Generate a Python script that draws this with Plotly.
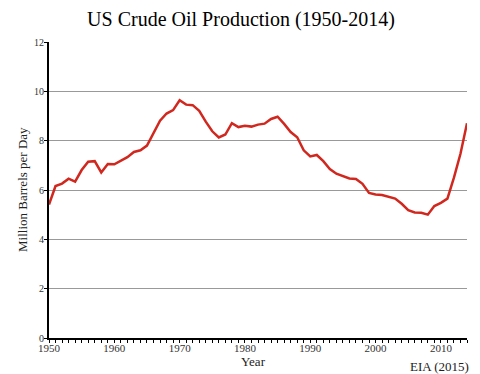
import plotly.graph_objects as go

years = list(range(1950, 2015))
production = [5.41, 6.16, 6.26, 6.46, 6.34, 6.81, 7.15, 7.17, 6.71, 7.05,
              7.04, 7.18, 7.33, 7.54, 7.61, 7.80, 8.30, 8.81, 9.10, 9.24,
              9.64, 9.46, 9.44, 9.21, 8.77, 8.38, 8.13, 8.25, 8.71, 8.55,
              8.60, 8.57, 8.65, 8.69, 8.88, 8.97, 8.68, 8.35, 8.14, 7.61,
              7.36, 7.42, 7.17, 6.85, 6.66, 6.56, 6.47, 6.45, 6.25, 5.88,
              5.82, 5.80, 5.74, 5.65, 5.44, 5.18, 5.09, 5.08, 5.00, 5.35,
              5.48, 5.65, 6.50, 7.47, 8.71]
x_ticks = [1950, 1960, 1970, 1980, 1990, 2000, 2010]
y_ticks = [0, 2, 4, 6, 8, 10, 12]

FONT = "Liberation Serif, Times New Roman, serif"

W, H = 480, 374
l, r, t, b = 49, 13, 42, 36
pw, ph = W - l - r, H - t - b


def px(xp):
    return (xp - l) / pw


def py(yp):
    return (H - b - yp) / ph


fig = go.Figure()
fig.add_trace(go.Scatter(x=years, y=production, mode="lines",
                         line=dict(color="#d0281f", width=2.5),
                         hoverinfo="skip", showlegend=False))

fig.update_layout(
    width=W, height=H,
    margin=dict(l=l, r=r, t=t, b=b, autoexpand=False),
    paper_bgcolor="white", plot_bgcolor="white",
    font=dict(family=FONT, color="#333"),
    title=dict(text="US Crude Oil Production (1950-2014)",
               font=dict(family=FONT, size=20, color="black"),
               x=241 / W, xanchor="center", xref="container",
               y=1 - 19 / H, yref="container", yanchor="middle"),
    xaxis=dict(range=[1950, 2014], tickvals=x_ticks,
               showline=True, linecolor="black", linewidth=2,
               ticks="outside", ticklen=3, tickwidth=1, tickcolor="black",
               minor=dict(dtick=1, tick0=1950, ticks="outside", ticklen=3,
                          tickcolor="black", tickwidth=1),
               ticklabelstandoff=-4,
               showgrid=False, zeroline=False,
               tickfont=dict(family=FONT, size=11, color="#333")),
    yaxis=dict(range=[0, 12], tickvals=y_ticks,
               showline=True, linecolor="black", linewidth=2,
               ticks="outside", ticklen=3, tickwidth=1, tickcolor="black",
               ticklabelstandoff=-2,
               showgrid=True, gridcolor="#999", gridwidth=1,
               zeroline=False,
               tickfont=dict(family=FONT, size=10, color="#333")),
    annotations=[
        dict(text="Million Barrels per Day", textangle=-90,
             x=px(22), y=py(190), xref="paper", yref="paper",
             xanchor="center", yanchor="middle",
             showarrow=False, font=dict(family=FONT, size=13, color="#222")),
        dict(text="Year", x=px(253), y=py(361), xref="paper", yref="paper",
             xanchor="center", yanchor="middle", showarrow=False,
             font=dict(family=FONT, size=13, color="#222")),
        dict(text="EIA (2015)", x=px(471), y=py(366), xref="paper", yref="paper",
             xanchor="right", yanchor="middle", showarrow=False,
             font=dict(family=FONT, size=13, color="#222")),
    ],
)

fig.write_html("out.html", config={"displayModeBar": False},
               post_script="document.body.style.margin='0';document.body.style.padding='0';")
